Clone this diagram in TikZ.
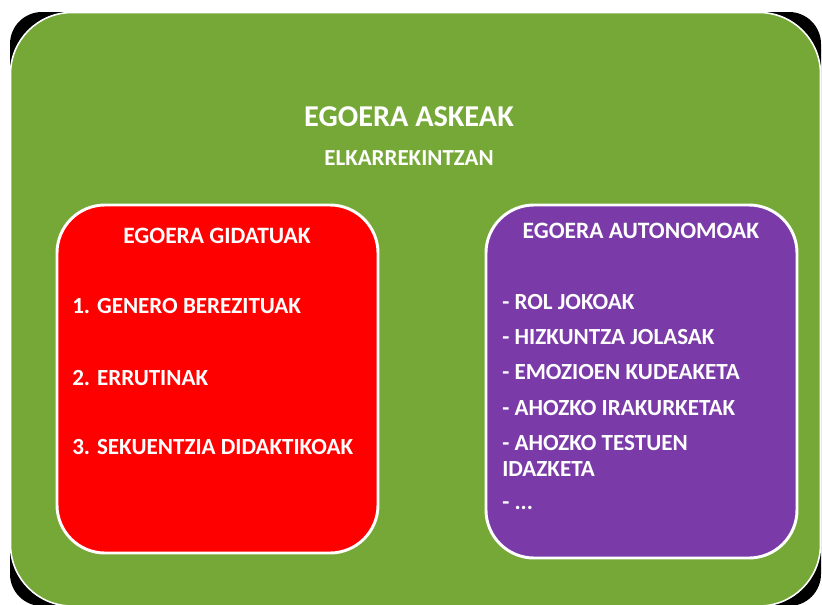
\documentclass[tikz,border=0pt]{standalone}
\usepackage{fontspec}
\setmainfont{Carlito}
\definecolor{grn}{HTML}{76A838}
\definecolor{rd}{HTML}{FF0000}
\definecolor{prp}{HTML}{7A3BA8}
\tikzset{
  txt/.style={text=white,font=\bfseries,inner sep=0pt},
  item/.style={txt,anchor=west,font=\bfseries\fontsize{17.3}{20}\selectfont},
  boxtitle/.style={txt,font=\bfseries\fontsize{17.6}{20}\selectfont},
}
\begin{document}
\begin{tikzpicture}[x=0.75pt,y=-0.75pt]
\useasboundingbox (0,0) rectangle (822,604);
\fill[white] (0,0) rectangle (822,604);
% shadow (visible only at the corners)
\fill[black,rounded corners=24] (10,12) rectangle (821,606);
% green background
\draw[fill=grn,draw=white,line width=1.2,rounded corners=46] (10.5,12.5) rectangle (820.5,606);
% red box
\draw[fill=rd,draw=white,line width=2.2,rounded corners=36] (57,205) rectangle (378,553);
% purple box
\draw[fill=prp,draw=white,line width=2.2,rounded corners=36] (486,205) rectangle (797,558);
% headings
\node[txt,font=\bfseries\fontsize{22.7}{26}\selectfont] (main) at (409,117) {EGOERA ASKEAK};
\node[txt,font=\bfseries\fontsize{17.2}{20}\selectfont] (sub) at (409,158) {ELKARREKINTZAN};
\node[boxtitle] (t1) at (217,236) {EGOERA GIDATUAK};
\node[boxtitle] (t2) at (641,231) {EGOERA AUTONOMOAK};
% red items
\node[item] (r1) at (72,306) {1. GENERO BEREZITUAK};
\node[item] (r2) at (72,378) {2. ERRUTINAK};
\node[item] (r3) at (72,447) {3. SEKUENTZIA DIDAKTIKOAK};
% purple items
\node[item] (p1) at (502,302) {- ROL JOKOAK};
\node[item] (p2) at (502,337) {- HIZKUNTZA JOLASAK};
\node[item] (p3) at (502,372) {- EMOZIOEN KUDEAKETA};
\node[item] (p4) at (502,408) {- AHOZKO IRAKURKETAK};
\node[item] (p5) at (502,443) {- AHOZKO TESTUEN};
\node[item] (p6) at (502,469) {IDAZKETA};
\node[item] (p7) at (502,506) {- ...};
\end{tikzpicture}
\end{document}
